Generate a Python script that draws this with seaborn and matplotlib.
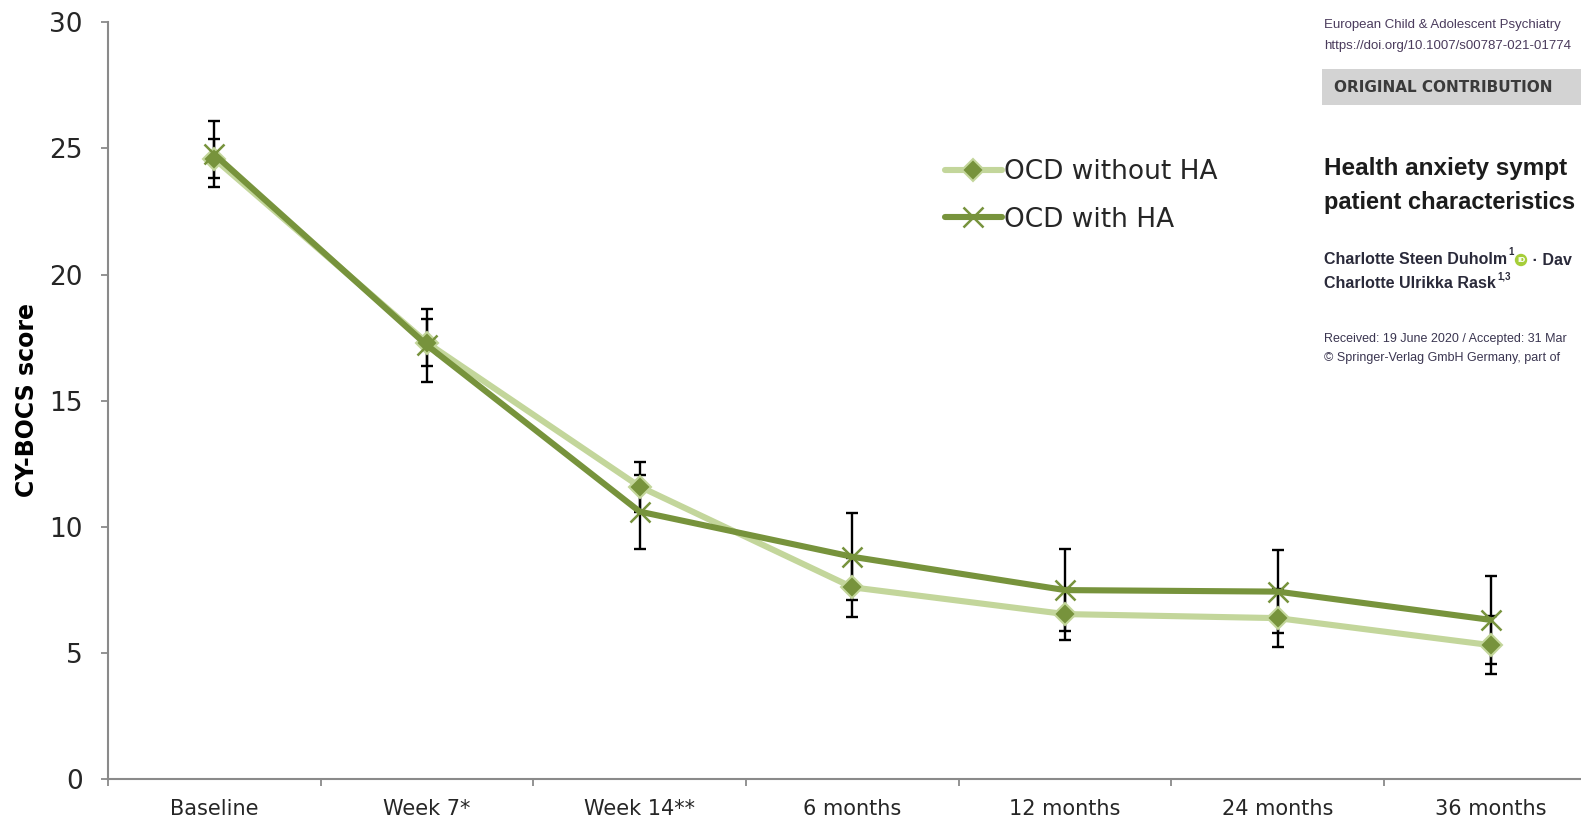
import numpy as np
import pandas as pd
import matplotlib
matplotlib.use("Agg")
import matplotlib.pyplot as plt
from matplotlib.lines import Line2D
from matplotlib.patches import Rectangle, Circle
from matplotlib.transforms import IdentityTransform
import seaborn as sns

# ---- data -------------------------------------------------------------
timepoints = ["Baseline", "Week 7*", "Week 14**", "6 months",
              "12 months", "24 months", "36 months"]
series_names = ["OCD without HA", "OCD with HA"]
without_ha = [24.59, 17.30, 11.60, 7.61, 6.55, 6.39, 5.32]
without_ha_err = [0.77, 0.94, 0.99, 1.16, 1.03, 1.15, 1.15]
with_ha = [24.77, 17.20, 10.61, 8.82, 7.50, 7.44, 6.32]
with_ha_err = [1.31, 1.44, 1.47, 1.72, 1.62, 1.65, 1.74]
y_ticks = [0, 5, 10, 15, 20, 25, 30]

# ---- style ------------------------------------------------------------
LIGHT = "#c3d69b"
DARK = "#77933c"
AXIS_GREY = "#8a8a8a"
W, H = 1581, 821

sns.set_theme(style="white")
plt.rcParams["font.family"] = ["DejaVu Sans"]
HEAD = ["Liberation Sans", "DejaVu Sans"]


def fig_xy(px, py):
    """Pixel position (origin top-left) to figure fraction."""
    return px / W, 1 - py / H


fig = plt.figure(figsize=(W / 100, H / 100), dpi=100)
ax = fig.add_axes([107.9 / W, 1 - 779.4 / H, 1489 / W, (779.4 - 22.2) / H])

x = np.arange(len(timepoints))
df = pd.DataFrame({
    "time": np.tile(x, 2),
    "score": without_ha + with_ha,
    "group": np.repeat(series_names, len(x)),
})

# error bars sit underneath the lines
ax.errorbar(x, without_ha, yerr=without_ha_err, fmt="none", ecolor="black",
            elinewidth=1.7, capsize=4.3, capthick=1.7, zorder=1)
ax.errorbar(x, with_ha, yerr=with_ha_err, fmt="none", ecolor="black",
            elinewidth=1.7, capsize=4.3, capthick=1.7, zorder=1)

light_kw = dict(color=LIGHT, linewidth=4.4, marker="D", markersize=11,
                markerfacecolor=DARK, markeredgecolor=LIGHT, markeredgewidth=1.5)
dark_kw = dict(color=DARK, linewidth=4.4, marker="x", markersize=15,
               markeredgecolor=DARK, markeredgewidth=1.8)

sns.lineplot(data=df[df["group"] == series_names[0]], x="time", y="score",
             ax=ax, legend=False, zorder=3, **light_kw)
sns.lineplot(data=df[df["group"] == series_names[1]], x="time", y="score",
             ax=ax, legend=False, zorder=4, **dark_kw)

# ---- axes -------------------------------------------------------------
ax.set_xlim(-0.5, len(timepoints) - 0.5)
ax.set_ylim(0, 30)
ax.set_yticks(y_ticks)
ax.set_xticks(np.arange(len(timepoints) + 1) - 0.5)
ax.set_xticklabels([])
ax.set_xticks(x, minor=True)
ax.set_xticklabels(timepoints, minor=True, fontsize=15)
ax.tick_params(axis="x", which="major", direction="out", length=5,
               width=1.3, color=AXIS_GREY, bottom=True)
ax.tick_params(axis="x", which="minor", length=0, pad=14, bottom=True)
ax.tick_params(axis="y", direction="out", length=5, width=1.3,
               color=AXIS_GREY, left=True, pad=13, labelsize=19)
ax.set_xlabel("")
ax.set_ylabel("")
for side in ("top", "right"):
    ax.spines[side].set_visible(False)
for side in ("left", "bottom"):
    ax.spines[side].set_color(AXIS_GREY)
    ax.spines[side].set_linewidth(1.5)
ax.grid(False)
ax.set_facecolor("white")

fig.text(*fig_xy(27, 400), "CY-BOCS score", rotation=90, ha="center",
         va="center", fontsize=17, fontweight="bold", color="black")

handles = [Line2D([], [], **light_kw), Line2D([], [], **dark_kw)]
ax.legend(handles, series_names, loc="upper left",
          bbox_to_anchor=fig_xy(945, 159), bbox_transform=fig.transFigure,
          frameon=False, fontsize=19, handlelength=2.15, handletextpad=0.1,
          borderpad=0, borderaxespad=0, labelspacing=0.82)

# ---- article header panel ---------------------------------------------
fig.add_artist(Rectangle(fig_xy(1312, 380), (W - 1312) / W, 380 / H,
                         transform=fig.transFigure, facecolor="white",
                         edgecolor="none", zorder=5))
fig.text(*fig_xy(1324, 25), "European Child & Adolescent Psychiatry",
         fontsize=9.5, family=HEAD, color="#4a3b5c", va="center", zorder=6)
fig.text(*fig_xy(1324, 46), "https://doi.org/10.1007/s00787-021-01774",
         fontsize=9.5, family=HEAD, color="#4a3b5c", va="center", zorder=6)
fig.add_artist(Rectangle(fig_xy(1322, 105), (W - 1322) / W, 36 / H,
                         transform=fig.transFigure, facecolor="#d3d3d3",
                         edgecolor="none", zorder=6))
fig.text(*fig_xy(1334, 88), "ORIGINAL CONTRIBUTION", fontsize=11,
         fontweight="bold", color="#3a3a3a", va="center", zorder=7)
fig.text(*fig_xy(1324, 168), "Health anxiety sympt",
         fontsize=17.5, fontweight="bold", family=HEAD, color="#1c1c1c",
         va="center", zorder=7)
fig.text(*fig_xy(1324, 202), "patient characteristics",
         fontsize=17, fontweight="bold", family=HEAD, color="#1c1c1c",
         va="center", zorder=7)

renderer = fig.canvas.get_renderer()
name1 = fig.text(*fig_xy(1324, 260), "Charlotte Steen Duholm", fontsize=11.5,
                 fontweight="bold", family=HEAD, color="#2a2a3a",
                 va="center", zorder=7)
bb = name1.get_window_extent(renderer)
sup1 = fig.text(bb.x1 + 1, H - 257, "1", transform=IdentityTransform(),
                fontsize=7, fontweight="bold", family=HEAD,
                color="#2a2a3a", va="bottom", zorder=7)
bb2 = sup1.get_window_extent(renderer)
fig.add_artist(Circle((bb2.x1 + 7.5, H - 260), 6.2,
                      transform=IdentityTransform(), facecolor="#a6ce39",
                      edgecolor="none", zorder=7))
fig.text(bb2.x1 + 7.5, H - 260, "iD", transform=IdentityTransform(),
         fontsize=5, fontweight="bold", color="white", ha="center",
         va="center", zorder=8)
fig.text(bb2.x1 + 14, H - 260, " · Dav", transform=IdentityTransform(),
         fontsize=11.5, fontweight="bold", family=HEAD, color="#2a2a3a",
         va="center", zorder=7)

name2 = fig.text(*fig_xy(1324, 284), "Charlotte Ulrikka Rask", fontsize=11.5,
                 fontweight="bold", family=HEAD, color="#2a2a3a",
                 va="center", zorder=7)
bb3 = name2.get_window_extent(renderer)
fig.text(bb3.x1 + 1, H - 281, "1,3", transform=IdentityTransform(),
         fontsize=7, fontweight="bold", family=HEAD, color="#2a2a3a",
         va="bottom", zorder=7)

fig.text(*fig_xy(1324, 339), "Received: 19 June 2020 / Accepted: 31 Mar",
         fontsize=9, family=HEAD, color="#3a3550", va="center", zorder=7)
fig.text(*fig_xy(1324, 358), "© Springer-Verlag GmbH Germany, part of",
         fontsize=9, family=HEAD, color="#3a3550", va="center", zorder=7)

fig.savefig("out.png", dpi=100, facecolor="white")
